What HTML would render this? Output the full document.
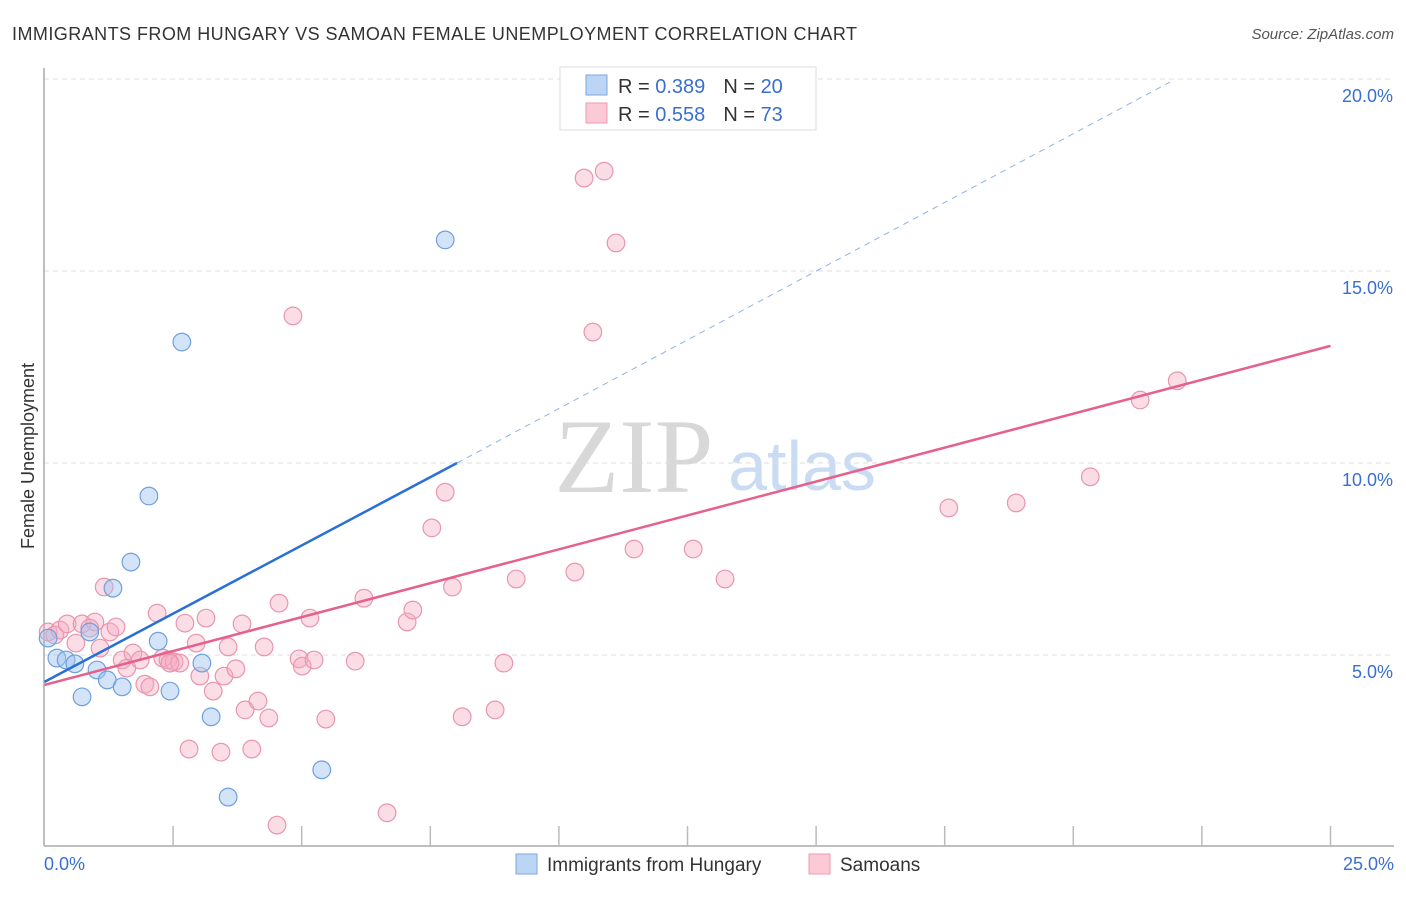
<!DOCTYPE html>
<html><head><meta charset="utf-8"><style>
body{margin:0;background:#fff;font-family:"Liberation Sans",sans-serif;}
</style></head><body>
<svg width="1406" height="892" xmlns="http://www.w3.org/2000/svg" id="svg">
<text x="12" y="40" font-size="18" fill="#333" textLength="845" lengthAdjust="spacing">IMMIGRANTS FROM HUNGARY VS SAMOAN FEMALE UNEMPLOYMENT CORRELATION CHART</text>
<text x="1394" y="39" font-size="15" fill="#555" font-style="italic" text-anchor="end">Source: ZipAtlas.com</text>
<text x="634" y="492" font-size="106" fill="#d8d8d8" font-family="Liberation Serif,serif" text-anchor="middle">ZIP</text>
<text x="802" y="490" font-size="70" fill="#c9dcf3" text-anchor="middle">atlas</text>
<g id="grid"></g>
<line x1="44" y1="68" x2="44" y2="846" stroke="#aaa" stroke-width="1.5"/>
<line x1="44" y1="846" x2="1394" y2="846" stroke="#aaa" stroke-width="1.5"/>
<g id="ticks"></g>
<g id="pts"></g>
<g id="lines"></g>
<text x="44" y="870" font-size="18" fill="#3a6fd0">0.0%</text>
<text x="1394" y="870" font-size="18" fill="#3a6fd0" text-anchor="end">25.0%</text>
<text transform="translate(34,456) rotate(-90)" font-size="18" fill="#333" text-anchor="middle">Female Unemployment</text>
<g>
<rect x="560" y="67" width="256" height="63" fill="#fff" stroke="#ddd"/>
<rect x="586" y="75" width="21" height="20" fill="#bcd5f5" stroke="#7aa6e0"/>
<rect x="586" y="103" width="21" height="20" fill="#fcc9d6" stroke="#eb9ab2"/>
<text x="618" y="93" font-size="20" fill="#333">R = <tspan fill="#3a6fd0">0.389</tspan><tspan dx="18">N = </tspan><tspan fill="#3a6fd0">20</tspan></text>
<text x="618" y="121" font-size="20" fill="#333">R = <tspan fill="#3a6fd0">0.558</tspan><tspan dx="18">N = </tspan><tspan fill="#3a6fd0"> 73</tspan></text>
</g>
<g>
<rect x="516" y="854" width="21" height="20" fill="#bcd5f5" stroke="#7aa6e0"/>
<text x="547" y="871" font-size="19" fill="#333">Immigrants from Hungary</text>
<rect x="809" y="854" width="21" height="20" fill="#fcc9d6" stroke="#eb9ab2"/>
<text x="840" y="871" font-size="19" fill="#333">Samoans</text>
</g>
</svg>
<script>
const yTicks=[5,10,15,20];
const yTickLabels=["5.0%","10.0%","15.0%","20.0%"];
const xTicks=[2.5,5,7.5,10,12.5,15,17.5,20,22.5,25];
const blueX=[0.07,0.24,0.42,0.59,0.88,1.02,1.22,0.73,1.51,1.33,1.68,2.03,2.21,2.44,3.06,3.24,3.57,2.67,5.39,7.79];
const blueY=[5.44,4.92,4.87,4.77,5.60,4.61,4.35,3.91,4.17,6.74,7.42,9.14,5.36,4.06,4.79,3.39,1.30,13.15,2.01,15.81];
const pinkX=[0.07,0.20,0.30,0.44,0.61,0.73,0.98,1.08,1.16,1.27,1.39,1.51,1.60,1.72,1.86,1.95,2.05,2.19,2.30,2.40,2.52,2.63,2.73,2.81,2.95,3.02,3.14,3.28,3.43,3.49,3.57,3.72,3.84,3.90,4.03,4.15,4.27,4.36,4.52,4.56,4.83,4.95,5.01,5.16,5.24,5.47,6.04,6.21,6.66,7.05,7.16,7.53,7.79,7.93,8.12,8.76,8.93,9.17,10.31,10.49,10.66,10.88,11.11,11.46,12.61,13.23,17.58,18.89,20.33,21.30,22.02,0.88,2.44];
const pinkY=[5.60,5.52,5.65,5.81,5.31,5.81,5.86,5.18,6.77,5.60,5.73,4.87,4.66,5.05,4.87,4.24,4.17,6.09,4.92,4.87,4.82,4.79,5.83,2.55,5.31,4.45,5.96,4.06,2.47,4.45,5.21,4.64,5.81,3.57,2.55,3.80,5.21,3.36,0.57,6.35,13.83,4.90,4.71,5.96,4.87,3.33,4.84,6.48,0.89,5.86,6.17,8.31,9.24,6.77,3.39,3.57,4.79,6.98,7.16,17.42,13.41,17.60,15.73,7.76,7.76,6.98,8.83,8.96,9.64,11.64,12.14,5.70,4.79];
const blueLine=[0,4.3,8.02,10.0];
const blueDash=[8.02,10.0,21.88,19.92];
const pinkLine=[0,4.22,25,13.05];
const NS="http://www.w3.org/2000/svg";
const xs=v=>44.5+v*51.44, ys=v=>847-v*38.4;
function mk(t,a,p){const e=document.createElementNS(NS,t);for(const k in a)e.setAttribute(k,a[k]);document.getElementById(p).appendChild(e);return e;}
yTicks.forEach((v,i)=>{
 const l=mk('line',{x1:44,x2:1394,y1:ys(v),y2:ys(v),stroke:'#ddd','stroke-dasharray':'5,4'},'grid');
 
 
 const t=mk('text',{x:1393,y:ys(v)+23,'font-size':18,fill:'#3a6fd0','text-anchor':'end'},'grid');
 t.textContent=yTickLabels[i];
 
 
});
xTicks.forEach(v=>{
 const l=mk('line',{x1:xs(v),x2:xs(v),y1:826,y2:846,stroke:'#bbb','stroke-width':1.5},'ticks');
 
 
});
pinkX.forEach((x,i)=>{
 const c=mk('circle',{cx:xs(x),cy:ys(pinkY[i]),r:8.8,fill:'rgba(246,170,192,0.4)',stroke:'#e995ae','stroke-width':1.2},'pts');
 
 
});
blueX.forEach((x,i)=>{
 const c=mk('circle',{cx:xs(x),cy:ys(blueY[i]),r:8.8,fill:'rgba(160,196,240,0.45)',stroke:'#6f9fde','stroke-width':1.2},'pts');
 
 
});
let l=mk('line',{x1:xs(blueLine[0]),y1:ys(blueLine[1]),x2:xs(blueLine[2]),y2:ys(blueLine[3]),stroke:'#2a6fd6','stroke-width':2.5},'lines');


l=mk('line',{x1:xs(blueDash[0]),y1:ys(blueDash[1]),x2:xs(blueDash[2]),y2:ys(blueDash[3]),stroke:'#8fb3e6','stroke-width':1,'stroke-dasharray':'6,5'},'lines');


l=mk('line',{x1:xs(pinkLine[0]),y1:ys(pinkLine[1]),x2:xs(pinkLine[2]),y2:ys(pinkLine[3]),stroke:'#e5608c','stroke-width':2.5},'lines');


</script>
</body></html>
